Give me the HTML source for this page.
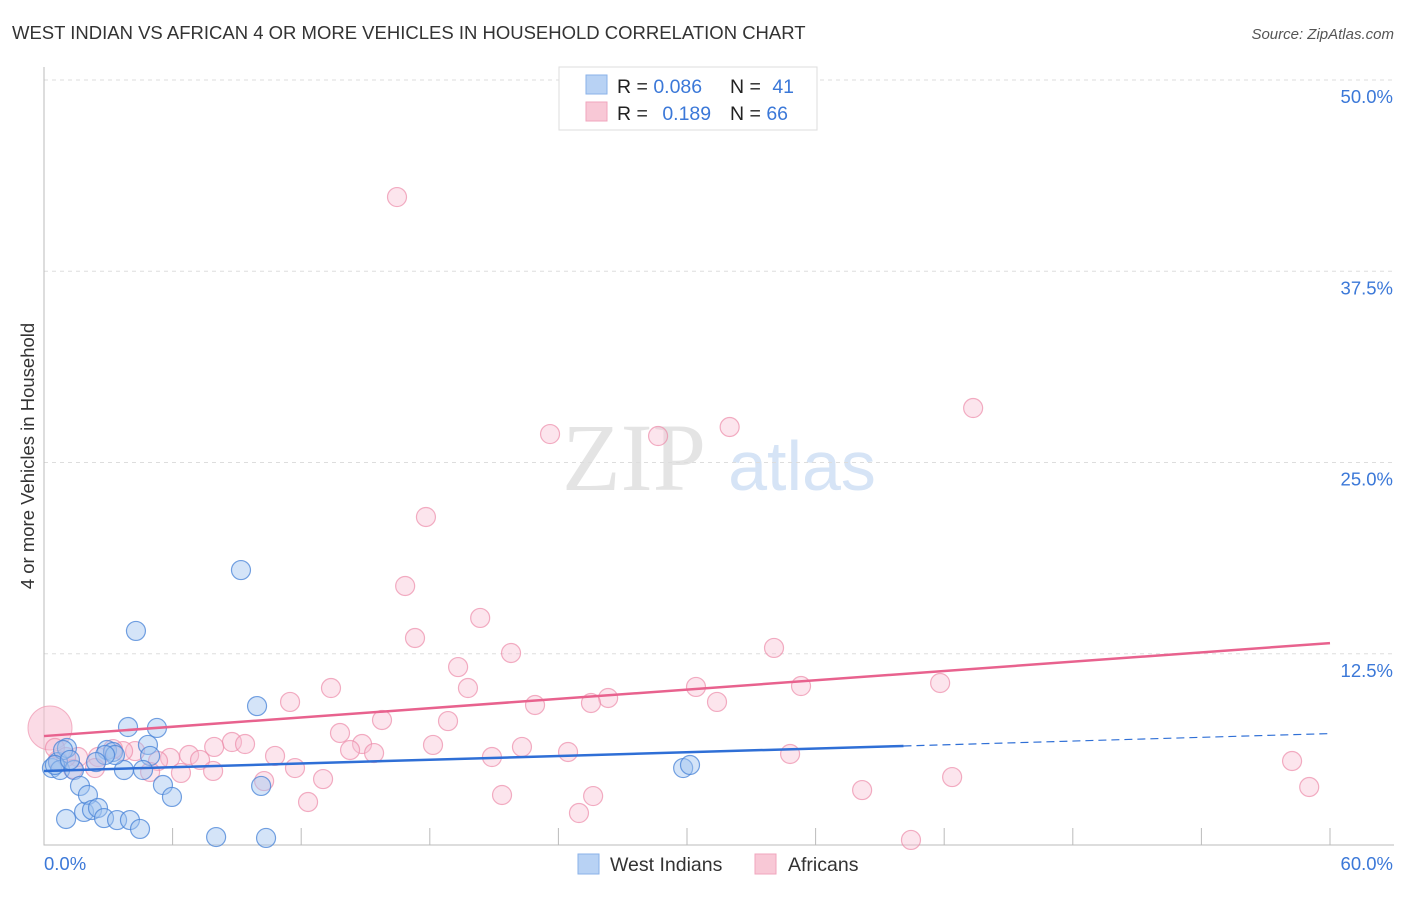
<!DOCTYPE html>
<html><head><meta charset="utf-8"><style>
body{margin:0;background:#fff;font-family:"Liberation Sans",sans-serif;}
svg text{font-family:"Liberation Sans",sans-serif;}
</style></head><body>
<svg id="chart" width="1406" height="892" xmlns="http://www.w3.org/2000/svg">
<text x="12" y="39" font-size="18.5" fill="#333">WEST INDIAN VS AFRICAN 4 OR MORE VEHICLES IN HOUSEHOLD CORRELATION CHART</text>
<text x="1394" y="39" font-size="15" fill="#555" font-style="italic" text-anchor="end">Source: ZipAtlas.com</text>
<text x="634" y="490" font-size="96" fill="#e4e4e4" font-family="Liberation Serif" text-anchor="middle" style="font-family:'Liberation Serif',serif">ZIP</text>
<text x="802" y="490" font-size="70" fill="#d6e4f6" text-anchor="middle">atlas</text>
<g id="grid"></g>
<g id="axes"></g>
<g id="marks"></g>
<text transform="translate(34,456) rotate(-90)" font-size="18.5" fill="#333" text-anchor="middle">4 or more Vehicles in Household</text>
<g>
<rect x="559" y="67" width="258" height="63" fill="#fff" stroke="#ddd"/>
<rect x="586" y="75" width="21" height="19" fill="#b8d2f4" stroke="#8ab2e8"/>
<rect x="586" y="102" width="21" height="19" fill="#f8c8d6" stroke="#f0a6bd"/>
<text x="617" y="93" font-size="19.5" fill="#222">R = <tspan fill="#3b78d8">0.086</tspan></text>
<text x="730" y="93" font-size="19.5" fill="#222">N = <tspan fill="#3b78d8" dx="6">41</tspan></text>
<text x="617" y="120" font-size="19.5" fill="#222">R = <tspan fill="#3b78d8" dx="9">0.189</tspan></text>
<text x="730" y="120" font-size="19.5" fill="#222">N = <tspan fill="#3b78d8">66</tspan></text>
</g>
<g>
<rect x="578" y="854" width="21" height="20" fill="#b8d2f4" stroke="#8ab2e8"/>
<text x="610" y="871" font-size="19.5" fill="#333">West Indians</text>
<rect x="755" y="854" width="21" height="20" fill="#f8c8d6" stroke="#f0a6bd"/>
<text x="788" y="871" font-size="19.5" fill="#333">Africans</text>
</g>
</svg>
<script>
const xTicks=[0,6,12,18,24,30,36,42,48,54,60];
const yTicks=[12.5,25,37.5,50];
const blueX=[0.37,0.65,0.75,1.07,0.89,1.40,1.68,1.87,1.03,2.05,2.24,2.52,2.80,2.94,3.22,3.41,3.73,3.92,4.01,4.48,4.85,4.95,5.27,5.55,5.97,4.29,9.19,9.94,10.13,8.03,10.36,29.82,30.14,3.31,0.51,2.85,4.62,2.43,1.21];
const blueY=[5.03,5.42,4.90,6.34,6.21,4.90,3.86,2.16,1.70,3.27,2.29,2.42,1.76,6.21,6.08,1.63,4.90,7.71,1.63,1.05,6.54,5.82,7.65,3.92,3.14,13.99,17.97,9.08,3.86,0.52,0.46,5.03,5.23,5.88,5.23,5.88,4.90,5.42,5.56];
const pinkX=[16.47,17.82,16.85,20.35,17.31,19.32,21.79,23.61,28.65,31.99,43.35,34.06,11.48,13.39,19.78,30.42,35.32,41.81,26.32,25.52,22.91,31.40,15.77,18.85,13.81,8.77,9.38,7.94,14.84,18.15,22.30,14.28,15.40,24.45,20.90,10.78,6.77,7.28,5.88,5.32,4.25,3.69,2.52,1.59,0.65,0.51,2.38,1.35,4.95,6.39,7.89,11.71,10.27,13.02,12.32,21.37,25.62,24.96,34.81,38.17,42.37,40.45,58.23,59.03,3.22,1.03];
const pinkY=[42.35,21.44,16.93,14.84,13.53,11.63,12.55,26.86,26.73,27.32,28.56,12.88,9.35,10.26,10.26,10.33,10.39,10.59,9.61,9.28,9.15,9.35,8.17,8.10,7.32,6.73,6.60,6.41,6.60,6.54,6.41,6.21,6.01,6.08,5.75,5.82,5.88,5.56,5.69,5.49,6.14,6.14,5.75,5.75,5.56,6.34,5.03,4.97,4.77,4.71,4.84,5.03,4.18,4.31,2.81,3.27,3.20,2.09,5.95,3.59,4.44,0.33,5.49,3.79,6.27,5.75];
const pinkBig=[0.28,7.65];
const blueLine=[4.84,0.0407,40.1];
const pinkLine=[7.12,0.1013];
const X=v=>44+v/60*1286, Y=v=>845-v*15.3;
const NS='http://www.w3.org/2000/svg';
function mk(t,a,p){const e=document.createElementNS(NS,t);for(const k in a)e.setAttribute(k,a[k]);p.appendChild(e);return e;}
const grid=document.getElementById('grid'),axes=document.getElementById('axes'),marks=document.getElementById('marks');
yTicks.forEach(v=>{const l=mk('line',{x1:44,x2:1394,y1:Y(v),y2:Y(v),stroke:'#ddd','stroke-dasharray':'4,4'},grid);


const t=mk('text',{x:1393,y:Y(v)+23,'font-size':18.5,fill:'#3b78d8','text-anchor':'end'},axes);t.textContent=v.toFixed(1)+'%';

});
const ax=mk('path',{d:'M44,67V845H1394',stroke:'#bbb',fill:'none'},axes);


xTicks.forEach(v=>{if(v===0)return;const l=mk('line',{x1:X(v),x2:X(v),y1:828,y2:845,stroke:'#bbb'},axes);

});
[[0,44,'start'],[60,1393,'end']].forEach(a=>{const t=mk('text',{x:a[1],y:870,'font-size':18.5,fill:'#3b78d8','text-anchor':a[2]},axes);t.textContent=a[0].toFixed(1)+'%';

});
const big=mk('circle',{cx:X(pinkBig[0]),cy:Y(pinkBig[1]),r:22,fill:'rgba(248,190,210,0.55)',stroke:'rgba(240,160,184,0.8)'},marks);


pinkX.forEach((x,i)=>{const c=mk('circle',{cx:X(x),cy:Y(pinkY[i]),r:9.5,fill:'rgba(248,190,210,0.4)',stroke:'rgba(236,140,170,0.7)','stroke-width':1.2},marks);

});
blueX.forEach((x,i)=>{const c=mk('circle',{cx:X(x),cy:Y(blueY[i]),r:9.5,fill:'rgba(160,196,240,0.45)',stroke:'rgba(70,130,215,0.75)','stroke-width':1.2},marks);

});
const pl=mk('line',{x1:X(0),y1:Y(pinkLine[0]),x2:X(60),y2:Y(pinkLine[0]+pinkLine[1]*60),stroke:'#e8628e','stroke-width':2.5},marks);


const be=blueLine[2];
const bl=mk('line',{x1:X(0),y1:Y(blueLine[0]),x2:X(be),y2:Y(blueLine[0]+blueLine[1]*be),stroke:'#2f6fd6','stroke-width':2.5},marks);


const bd=mk('line',{x1:X(be),y1:Y(blueLine[0]+blueLine[1]*be),x2:X(60),y2:Y(blueLine[0]+blueLine[1]*60),stroke:'#2f6fd6','stroke-width':1.2,'stroke-dasharray':'8,5'},marks);


</script>
</body></html>
